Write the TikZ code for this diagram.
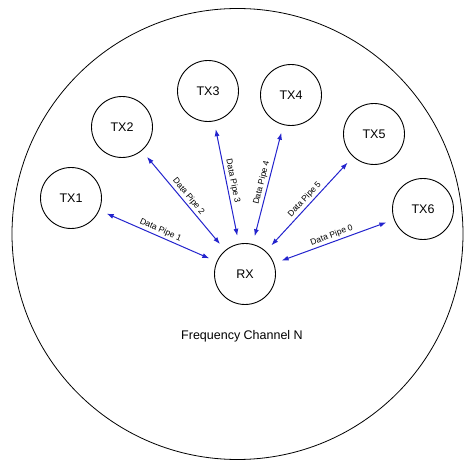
\documentclass[tikz,border=0pt]{standalone}
\usepackage{fontspec}
\setmainfont{Liberation Sans}
\usetikzlibrary{arrows.meta}
\definecolor{pipeblue}{RGB}{35,35,205}
\tikzset{
  station/.style={draw, circle, line width=0.9pt, minimum size=61pt, inner sep=0pt, font=\fontsize{12.5}{14}\selectfont},
  pipe/.style={pipeblue, line width=1pt, {Latex[length=7pt,width=5pt]}-{Latex[length=7pt,width=5pt]}, shorten <=8pt, shorten >=8pt},
  pipelabel/.style={black, sloped, above, font=\fontsize{8.5}{10}\selectfont, inner sep=2pt}
}
\begin{document}
\begin{tikzpicture}[x=1pt,y=-1pt]
  \useasboundingbox (0,0) rectangle (464,462);
  \draw[line width=0.8pt] (237.5,234) circle[radius=225.5];
  \node[station] (rx) at (245,274) {RX};
  \foreach \n/\x/\y in {1/71/198, 2/122/127, 3/208/91, 4/291/95, 5/374/134, 6/423/209}
    \node[station] (tx\n) at (\x,\y) {TX\n};
  \draw[pipe] (tx1) -- (rx) node[pipelabel, midway] (p1) {Data Pipe 1};
  \draw[pipe] (tx2) -- (rx) node[pipelabel, midway] (p2) {Data Pipe 2};
  \draw[pipe] (tx3) -- (rx) node[pipelabel, midway] (p3) {Data Pipe 3};
  \draw[pipe] (tx4) -- (rx) node[pipelabel, midway] (p4) {Data Pipe 4};
  \draw[pipe] (tx5) -- (rx) node[pipelabel, midway] (p5) {Data Pipe 5};
  \draw[pipe] (rx) -- (tx6) node[pipelabel, midway] (p0) {Data Pipe 0};
  \node[font=\fontsize{12.5}{14}\selectfont] (chan) at (242,336) {Frequency Channel N};
\end{tikzpicture}
\end{document}
